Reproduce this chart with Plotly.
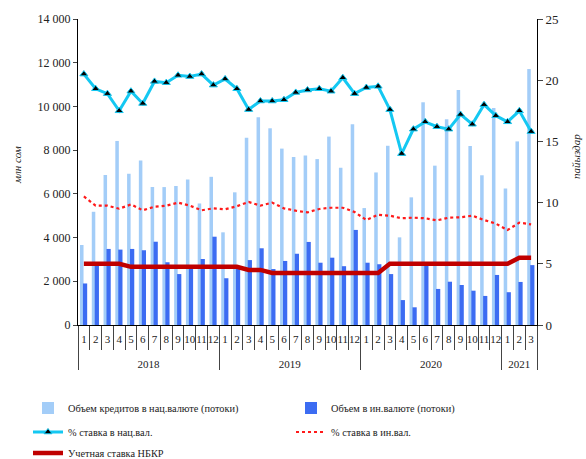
import plotly.graph_objects as go

years = ["2018"] * 12 + ["2019"] * 12 + ["2020"] * 12 + ["2021"] * 3
months = [str(m) for m in range(1, 13)] * 3 + ["1", "2", "3"]

credit_nat = [3660, 5180, 6860, 8420, 6920, 7530, 6310, 6310, 6360, 6660, 5560, 6780,
              4240, 6070, 8570, 9510, 9000, 8070, 7690, 7760, 7590, 8620, 7200, 9190,
              5350, 6980, 8200, 4010, 5840, 10190, 7290, 9410, 10750, 8190, 6850, 9930,
              6250, 8400, 11710]
credit_for = [1900, 2790, 3480, 3450, 3480, 3420, 3810, 2870, 2330, 2700, 3020, 4040,
              2140, 2700, 2970, 3510, 2560, 2930, 3260, 3800, 2850, 3080, 2690, 4350,
              2850, 2780, 2330, 1140, 810, 2740, 1650, 1980, 1830, 1570, 1330, 2290,
              1500, 1970, 2740]
rate_nat = [20.5, 19.3, 18.9, 17.5, 19.1, 18.1, 19.9, 19.8, 20.4, 20.3, 20.5, 19.6,
            20.1, 19.3, 17.6, 18.3, 18.3, 18.4, 19.0, 19.2, 19.3, 19.1, 20.2, 18.9,
            19.4, 19.5, 17.6, 14.0, 16.0, 16.6, 16.2, 16.0, 17.2, 16.4, 18.0, 17.1,
            16.6, 17.5, 15.8]
rate_for = [10.5, 9.75, 9.75, 9.5, 9.85, 9.37, 9.67, 9.75, 10.0, 9.75, 9.37, 9.53,
            9.45, 9.7, 10.05, 9.75, 10.0, 9.53, 9.34, 9.2, 9.48, 9.58, 9.58, 9.23,
            8.58, 9.01, 8.93, 8.72, 8.77, 8.72, 8.55, 8.77, 8.8, 8.93, 8.58, 8.28,
            7.76, 8.36, 8.22]
nbkr = [5.0, 5.0, 5.0, 5.0, 4.75, 4.75, 4.75, 4.75, 4.75, 4.75, 4.75, 4.75,
        4.75, 4.75, 4.5, 4.5, 4.25, 4.25, 4.25, 4.25, 4.25, 4.25, 4.25, 4.25,
        4.25, 4.25, 5.0, 5.0, 5.0, 5.0, 5.0, 5.0, 5.0, 5.0, 5.0, 5.0,
        5.0, 5.5, 5.5]

# year labels sit one line lower, below the month row
year_labels = ["<br>" + y for y in years]
x = [year_labels, months]
FONT = "Liberation Serif, Times New Roman, serif"
TXT = "#222222"

L, R, T, B = 78, 49, 19, 134
W, H = 586, 459
pw, ph = W - L - R, H - T - B


def px_x(v):
    return (v - L) / pw


def px_y(v):
    return (H - B - v) / ph


fig = go.Figure()
fig.add_trace(go.Bar(x=x, y=credit_nat, name="Объем кредитов в нац.валюте (потоки)",
                     marker=dict(color="#a3cdf8", line=dict(width=0)),
                     width=0.3, offset=-0.33, legend="legend"))
fig.add_trace(go.Bar(x=x, y=credit_for, name="Объем в ин.валюте (потоки)",
                     marker=dict(color="#3c6cf2", line=dict(width=0)),
                     width=0.36, offset=-0.08, legend="legend"))
fig.add_trace(go.Scatter(x=x, y=rate_nat, name="% ставка в нац.вал.", yaxis="y2",
                         mode="lines+markers",
                         line=dict(color="#14c8f2", width=3),
                         marker=dict(symbol="triangle-up", size=7, color="black",
                                     line=dict(color="#14c8f2", width=1)),
                         legend="legend2"))
fig.add_trace(go.Scatter(x=x, y=rate_for, name="% ставка в ин.вал.", yaxis="y2",
                         mode="lines", line=dict(color="#ff1a1a", width=2.2, dash="dot"),
                         legend="legend2"))
fig.add_trace(go.Scatter(x=x, y=nbkr, name="Учетная ставка НБКР", yaxis="y2",
                         mode="lines", line=dict(color="#c00000", width=4.5),
                         legend="legend3"))

leg_common = dict(orientation="h", xanchor="left", yanchor="middle",
                  entrywidth=218, entrywidthmode="pixels",
                  font=dict(family=FONT, size=10.3, color=TXT),
                  traceorder="normal", bgcolor="rgba(0,0,0,0)")

fig.update_layout(
    width=W, height=H,
    margin=dict(l=L, r=R, t=T, b=B, autoexpand=False),
    paper_bgcolor="white", plot_bgcolor="white",
    barmode="overlay",
    separators=", ",
    font=dict(family=FONT, size=12, color=TXT),
    showlegend=True,
    legend=dict(x=px_x(28), y=px_y(408), **leg_common),
    legend2=dict(x=px_x(28), y=px_y(432), **leg_common),
    legend3=dict(x=px_x(28), y=px_y(453), **leg_common),
    xaxis=dict(type="multicategory", range=[-0.5, 38.5], autorange=False,
               showline=True, linecolor="black", linewidth=1,
               ticks="outside", tickson="boundaries", ticklen=24, tickcolor="#444",
               tickmode="linear", dtick=1, tick0=0, tickangle=0, ticklabelstandoff=4,
               showgrid=False, showdividers=True, dividercolor="#444", dividerwidth=1,
               tickfont=dict(family=FONT, size=11, color=TXT)),
    yaxis=dict(range=[0, 14000], dtick=2000, tickformat=",d", showline=True,
               linecolor="black", linewidth=1, ticks="outside", ticklen=4,
               showgrid=False, zeroline=False,
               tickfont=dict(family=FONT, size=12, color=TXT)),
    yaxis2=dict(range=[0, 25], dtick=5, overlaying="y", side="right", showline=True,
                linecolor="black", linewidth=1, ticks="outside", ticklen=5,
                showgrid=False, zeroline=False,
                tickfont=dict(family=FONT, size=13, color=TXT)),
    annotations=[
        dict(text="<i>млн сом</i>", x=px_x(17), y=px_y(165), xref="paper", yref="paper",
             xanchor="center", yanchor="middle",
             showarrow=False, textangle=-90, font=dict(family=FONT, size=11, color=TXT)),
        dict(text="<i>пайыздар</i>", x=px_x(576), y=px_y(157), xref="paper", yref="paper",
             xanchor="center", yanchor="middle",
             showarrow=False, textangle=-90, font=dict(family=FONT, size=11, color=TXT)),
    ],
)

fig.write_html("out.html", config={"displayModeBar": False},
               post_script="document.body.style.margin='0';")
